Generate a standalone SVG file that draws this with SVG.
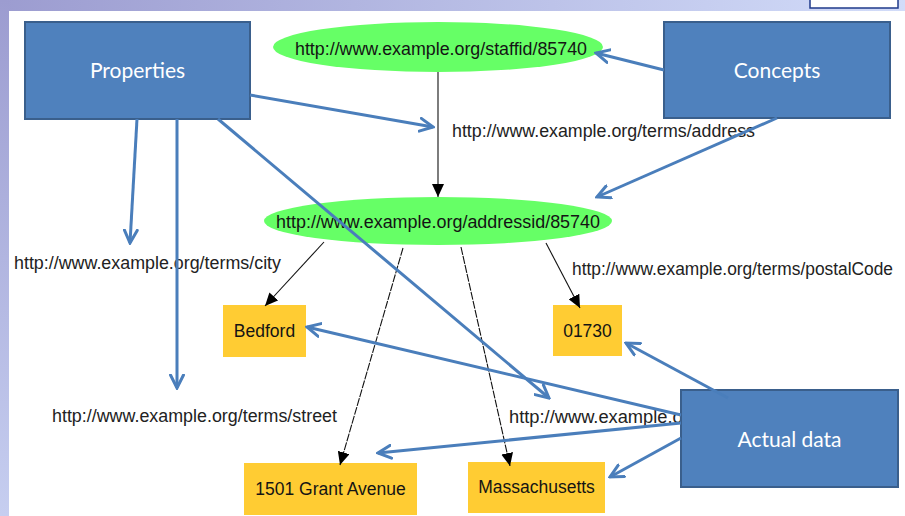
<svg xmlns="http://www.w3.org/2000/svg" width="905" height="516" viewBox="0 0 905 516">
  <defs>
    <linearGradient id="bandTop" x1="0" y1="0" x2="1" y2="0">
      <stop offset="0" stop-color="#9c9cd0"/>
      <stop offset="1" stop-color="#d2dcf9"/>
    </linearGradient>
    <linearGradient id="bandLeft" x1="0" y1="0" x2="0" y2="1">
      <stop offset="0" stop-color="#9c9cd0"/>
      <stop offset="1" stop-color="#c6cef0"/>
    </linearGradient>
    <marker id="blueHead" viewBox="0 0 16 16" refX="14" refY="8" markerWidth="16" markerHeight="16" markerUnits="userSpaceOnUse" orient="auto">
      <path d="M1,1.5 L14,8 L1,14.5" fill="none" stroke="#4a7ebb" stroke-width="3" stroke-linecap="round" stroke-linejoin="miter"/>
    </marker>
    <marker id="blackHead" viewBox="0 0 14 12" refX="13" refY="6" markerWidth="14" markerHeight="12" markerUnits="userSpaceOnUse" orient="auto">
      <path d="M0,0 L13,6 L0,12 Z" fill="#000"/>
    </marker>
  </defs>
  <style>
    .box { fill: #4f81bd; stroke: #3a5f8c; stroke-width: 2; }
    .boxText { font-family: Lato, "Open Sans", "Liberation Sans", sans-serif; font-size: 21px; fill: #ffffff; text-anchor: middle; }
    .uri { fill: #66ff66; }
    .lit { fill: #ffcc33; }
    .nodeText { font-family: "Liberation Sans", Arial, sans-serif; font-size: 17.5px; fill: #141414; }
    .edgeLabel { font-family: "Liberation Sans", Arial, sans-serif; font-size: 17.5px; fill: #222222; }
    .rdf { stroke: #111; stroke-width: 1.1; fill: none; marker-end: url(#blackHead); }
    .rdfDash { stroke-dasharray: 8 1.2; }
    .note { stroke: #4a7ebb; stroke-width: 3; fill: none; marker-end: url(#blueHead); }
  </style>

  <!-- slide frame -->
  <rect x="0" y="0" width="905" height="516" fill="#ffffff"/>
  <rect x="0" y="0" width="905" height="11" fill="url(#bandTop)"/>
  <rect x="0" y="0" width="9" height="516" fill="url(#bandLeft)"/>
  <rect x="810" y="-2" width="88" height="10" fill="#ffffff" stroke="#1f3a8a" stroke-width="1.5"/>

  <!-- edge labels -->
  <g id="edge-labels">
    <text class="edgeLabel" x="452" y="137" textLength="303" lengthAdjust="spacingAndGlyphs">http://www.example.org/terms/address</text>
    <text class="edgeLabel" x="14" y="269" textLength="267" lengthAdjust="spacingAndGlyphs">http://www.example.org/terms/city</text>
    <text class="edgeLabel" x="572" y="275" textLength="321" lengthAdjust="spacingAndGlyphs">http://www.example.org/terms/postalCode</text>
    <text class="edgeLabel" x="52" y="422" textLength="285" lengthAdjust="spacingAndGlyphs">http://www.example.org/terms/street</text>
    <text class="edgeLabel" x="509" y="423" textLength="190" lengthAdjust="spacingAndGlyphs">http://www.example.org</text>
  </g>

  <!-- resource nodes -->
  <g id="staffid">
    <ellipse class="uri" cx="438" cy="47" rx="165" ry="25"/>
    <text class="nodeText" x="295" y="55" textLength="292" lengthAdjust="spacingAndGlyphs">http://www.example.org/staffid/85740</text>
  </g>
  <g id="addressid">
    <ellipse class="uri" cx="438" cy="221" rx="174" ry="24"/>
    <text class="nodeText" x="276" y="228" textLength="324" lengthAdjust="spacingAndGlyphs">http://www.example.org/addressid/85740</text>
  </g>

  <!-- literal nodes -->
  <g id="bedford">
    <rect class="lit" x="223" y="305" width="83" height="52"/>
    <text class="nodeText" x="264.5" y="337" text-anchor="middle">Bedford</text>
  </g>
  <g id="postalcode">
    <rect class="lit" x="553" y="305" width="69" height="51"/>
    <text class="nodeText" x="587.5" y="337" text-anchor="middle">01730</text>
  </g>
  <g id="street">
    <rect class="lit" x="244" y="463" width="173" height="52"/>
    <text class="nodeText" x="330.5" y="495" text-anchor="middle">1501 Grant Avenue</text>
  </g>
  <g id="state">
    <rect class="lit" x="468" y="462" width="137" height="51"/>
    <text class="nodeText" x="536.5" y="493" text-anchor="middle">Massachusetts</text>
  </g>

  <!-- RDF graph edges -->
  <g id="rdf-edges">
    <line class="rdf" x1="438" y1="72" x2="438" y2="197"/>
    <line class="rdf" x1="324" y1="242" x2="265" y2="306"/>
    <line class="rdf rdfDash" x1="403" y1="248" x2="340" y2="465"/>
    <line class="rdf rdfDash" x1="461" y1="247" x2="510" y2="466"/>
    <line class="rdf" x1="546" y1="243" x2="580" y2="308"/>
  </g>

  <!-- callout boxes -->
  <g id="properties">
    <rect class="box" x="25" y="22" width="225" height="97"/>
    <text class="boxText" x="137.5" y="78">Properties</text>
  </g>
  <g id="concepts">
    <rect class="box" x="664" y="22" width="226" height="96"/>
    <text class="boxText" x="777" y="78">Concepts</text>
  </g>
  <g id="actual-data">
    <rect class="box" x="681" y="390" width="217" height="97"/>
    <text class="boxText" x="789.5" y="447">Actual data</text>
  </g>

  <!-- callout arrows -->
  <g id="callout-arrows">
    <line class="note" x1="250" y1="95" x2="433" y2="127"/>
    <line class="note" x1="137" y1="119" x2="130" y2="243"/>
    <line class="note" x1="177" y1="119" x2="177" y2="388"/>
    <line class="note" x1="218" y1="119" x2="549" y2="398"/>
    <line class="note" x1="664" y1="70" x2="596" y2="53"/>
    <line class="note" x1="777" y1="118" x2="597" y2="197"/>
    <line class="note" x1="681" y1="415" x2="307" y2="327"/>
    <line class="note" x1="681" y1="423" x2="378" y2="453"/>
    <line class="note" x1="681" y1="438" x2="610" y2="477"/>
    <line class="note" x1="728" y1="398" x2="626" y2="343"/>
  </g>
</svg>
